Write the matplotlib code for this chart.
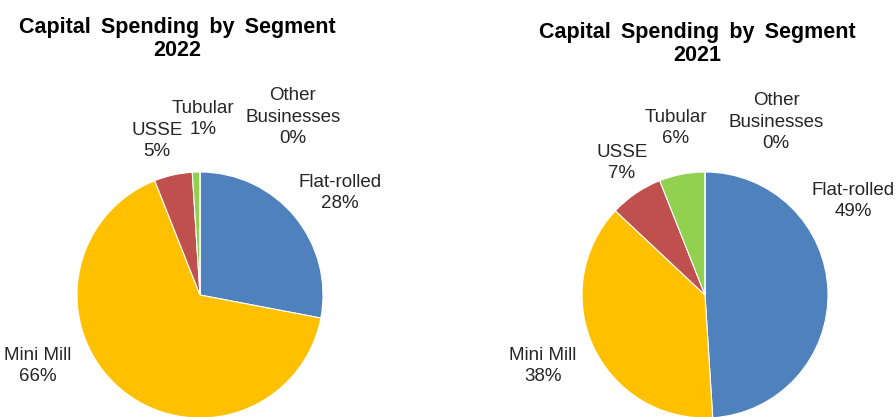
import matplotlib.pyplot as plt

plt.rcParams['font.family'] = ['Liberation Sans', 'DejaVu Sans']

segments = ['Flat-rolled', 'Mini Mill', 'USSE', 'Tubular', 'Other\nBusinesses']
spend_2022 = [28, 66, 5, 1, 0]
spend_2021 = [49, 38, 7, 6, 0]
colors = ['#4F81BD', '#FFC000', '#C0504D', '#92D050', '#A5A5A5']

W, H = 896, 417
fig = plt.figure(figsize=(W / 100, H / 100), dpi=100)
ax = fig.add_axes([0, 0, 1, 1])

# pie centres / radius and label spots, in pixels (y measured from the top)
pies = [
    dict(year='2022', values=spend_2022, center=(200, 295), title_x=177, title_y=39,
         label_pos=[(340, 193), (38, 366), (157, 141), (203, 119), (293, 117)]),
    dict(year='2021', values=spend_2021, center=(705, 295), title_x=697, title_y=44,
         label_pos=[(853, 201), (543, 366), (622, 163), (676, 128), (776, 122)]),
]
radius = 123

for p in pies:
    cx, cy = p['center']
    ax.pie(p['values'], colors=colors, startangle=90, counterclock=False,
           center=(cx, H - cy), radius=radius,
           wedgeprops=dict(edgecolor='white', linewidth=0.8))
    ax.text(p['title_x'], H - p['title_y'],
            'Capital \u2009Spending \u2009by \u2009Segment\n' + p['year'],
            ha='center', va='center', fontsize=15.5, fontweight='bold',
            linespacing=1.15)
    for name, val, (lx, ly) in zip(segments, p['values'], p['label_pos']):
        ax.text(lx, H - ly, f'{name}\n{val}%', ha='center', va='center',
                fontsize=13.5, linespacing=1.35, color='#262626')

ax.set_xlim(0, W)
ax.set_ylim(0, H)
ax.set_aspect('auto')
ax.axis('off')

fig.savefig('out.png', dpi=100, facecolor='white')
